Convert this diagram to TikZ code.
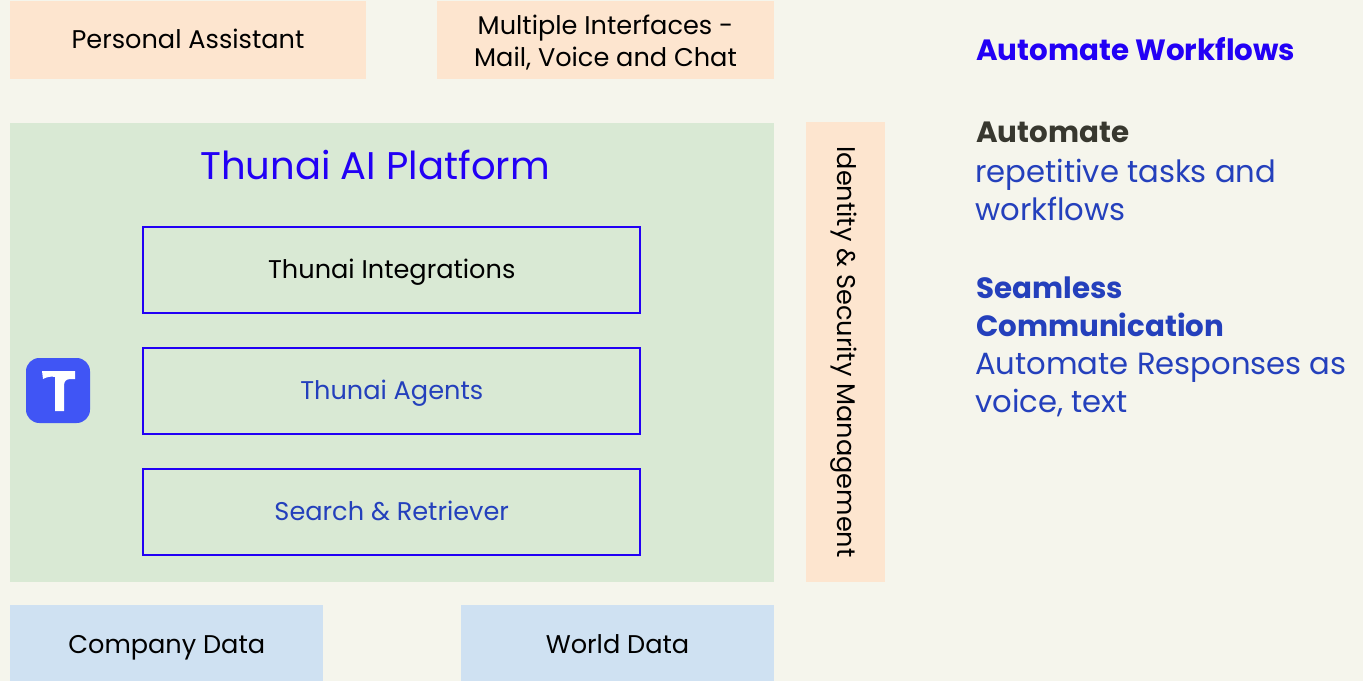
\documentclass[tikz,border=0pt]{standalone}
\usepackage{fontspec}
\setmainfont{Poppins}
\definecolor{pagebg}{HTML}{F5F5EC}
\definecolor{peach}{HTML}{FDE5CF}
\definecolor{sage}{HTML}{D9E9D4}
\definecolor{sky}{HTML}{CFE1F2}
\definecolor{pureblue}{HTML}{2200F5}
\definecolor{midblue}{HTML}{2440BC}
\definecolor{logoblue}{HTML}{4055F5}
\definecolor{darkgrey}{HTML}{38382F}
\tikzset{
px/.style={x=0.75pt,y=-0.75pt},
panel/.style={inner sep=0pt, align=center, text=black, text height=16pt, text depth=2.7pt, font=\fontsize{19.2}{24}\selectfont},
toppanel/.style={panel, fill=peach, minimum height=58.5pt},
datapanel/.style={panel, fill=sky, minimum width=235pt, minimum height=57pt, text height=19pt},
tier/.style={panel, draw=pureblue, line width=1.4pt, minimum width=373pt, minimum height=64.5pt},
head/.style={anchor=base west, inner sep=0pt, text=pureblue, font=\fontsize{22}{28}\selectfont\bfseries},
side/.style={anchor=base west, inner sep=0pt, text=midblue, font=\fontsize{23}{28}\selectfont},
}
\begin{document}
\begin{tikzpicture}[px]
\fill[pagebg] (0,0) rectangle (1363,681);
\useasboundingbox (0,0) rectangle (1363,681);
% top row
\node[toppanel, minimum width=267pt] (assistant) at (188,40){Personal Assistant};
\node[toppanel, minimum width=252.75pt] (interfaces) at (605.5,40){};
\node[panel, text height=, text depth=] (interfacestext) at (605.5,42.5){\shortstack{Multiple Interfaces -\\[1.5pt]Mail, Voice and Chat}};
% platform
\node[panel, fill=sage, minimum width=573pt, minimum height=344.25pt] (platform) at (392,352.5){};
\node[text=pureblue, inner sep=0pt, font=\fontsize{28.9}{34}\selectfont] (title) at (375,165){Thunai AI Platform};
\node[tier] (integrations) at (391.75,270){Thunai Integrations};
\node[tier, text=midblue] (agents) at (391.75,391){Thunai Agents};
\node[tier, text=midblue] (retriever) at (391.75,511.75){Search \& Retriever};
% logo
\node[fill=logoblue, inner sep=0pt, rounded corners=10pt, minimum width=48pt, minimum height=48.75pt] (logo) at (58,390.5){};
\fill[white] (42,371) -- (75,371) -- (75,379) -- (71,379) .. controls (66,379) and (64,381) .. (64,386) -- (64,411) -- (55,411) -- (55,377) .. controls (51,376) and (47,377) .. (43,379) -- cycle;
% identity bar
\node[panel, fill=peach, minimum width=58.9pt, minimum height=345pt] (identity) at (845.25,352){};
\node[panel, rotate=-90] (identitytext) at (846,352){Identity \& Security Management};
% bottom row
\node[datapanel] (company) at (166.75,643){Company Data};
\node[datapanel] (world) at (617.5,643){World Data};
% right column
\node[head] (workflows) at (976,61){Automate Workflows};
\node[head, text=darkgrey] (automate) at (976,143){Automate};
\node[side] (tasks) at (975,182){repetitive tasks and};
\node[side] (flows) at (975,220){workflows};
\node[head, text=midblue] (seamless) at (976,298){Seamless};
\node[head, text=midblue] (communication) at (976,336){Communication};
\node[side] (responses) at (975,374){Automate Responses as};
\node[side] (voice) at (975,412){voice, text};
\end{tikzpicture}
\end{document}
